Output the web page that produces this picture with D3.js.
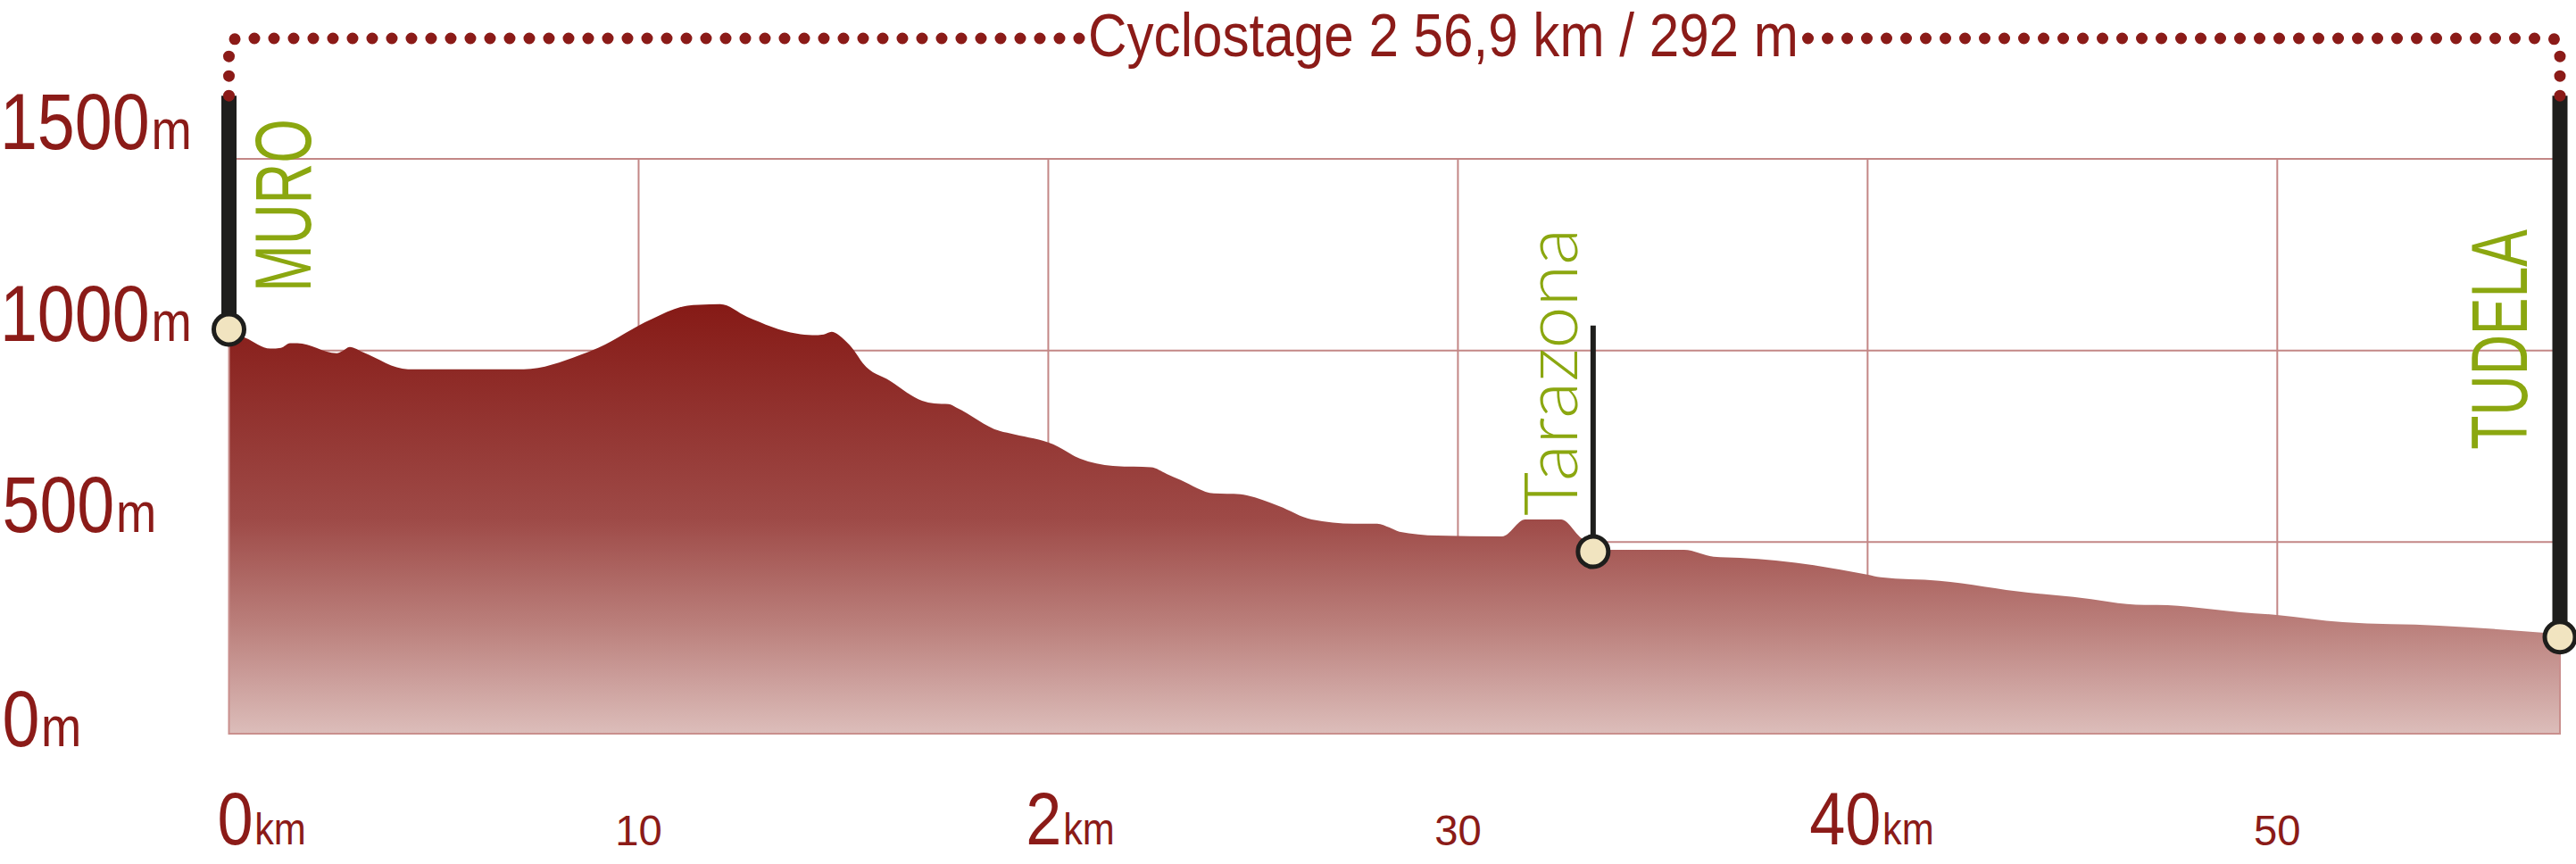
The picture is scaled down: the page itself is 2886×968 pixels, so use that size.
<!DOCTYPE html>
<html><head><meta charset="utf-8">
<script src="https://cdn.jsdelivr.net/npm/d3@7"></script>
<style>html,body{margin:0;padding:0;background:#fff;} svg{display:block;}</style>
</head><body>
<svg id="chart" width="2886" height="968"></svg>
<script>
// ---- data ----
const distanceKm = [0.0,0.40,1.01,1.27,1.49,1.67,2.63,2.76,2.95,3.28,4.37,4.93,6.83,7.20,8.57,9.01,10.32,11.19,11.47,11.99,12.65,13.86,14.24,14.52,14.71,15.04,15.26,15.47,16.13,16.92,17.22,17.57,17.76,18.81,19.18,20.12,20.77,21.58,22.51,22.89,23.23,24.04,24.69,24.85,25.63,26.43,27.46,28.03,28.33,28.57,29.49,31.08,31.64,32.52,33.02,33.32,33.63,35.52,36.24,36.89,37.76,39.99,40.32,41.75,43.93,45.02,46.77,47.07,49.10,49.99,51.60,53.95,56.9];
const elevationM = [1050,1033,1005,1007,1019,1019,993,998,1009,995,951,951,951,951,988,1007,1082,1117,1119,1121,1088,1044,1040,1042,1049,1026,1000,967,921,869,862,860,851,790,781,755,718,699,695,678,662,627,625,622,594,559,548,548,538,527,517,515,559,559,510,490,480,480,462,459,452,415,408,399,368,357,336,336,317,310,291,282,260];
const townNames = ["MURO", "Tarazona", "TUDELA"];
const townKm = [0, 33.3, 56.9];
const townElev = [1055, 475, 252];
const yTickValues = [0, 500, 1000, 1500];
const yTickLabels = ["0m", "500m", "1000m", "1500m"];
const xTickValues = [0, 10, 20, 30, 40, 50];
const xTickLabels = ["0km", "10", "2km", "30", "40km", "50"];
const titleText = "Cyclostage 2 56,9 km / 292 m";

// ---- styling ----
const RED = "#8b1b18", GREEN = "#8ba710", DARK = "#1e1e1c", GRID = "#c38786";
const FONT = "'Liberation Sans', Arial, sans-serif";
const LIGHT_FONT = "Lato, 'Open Sans', sans-serif";

// text fitting helpers (canvas ink metrics)
const ctx = document.createElement("canvas").getContext("2d");
function ink(text, size, family, weight) {
  ctx.font = `${weight} ${size}px ${family}`;
  const m = ctx.measureText(text);
  return { left: m.actualBoundingBoxLeft, width: m.actualBoundingBoxLeft + m.actualBoundingBoxRight, ascent: m.actualBoundingBoxAscent };
}
function fit(text, family, weight, capH, inkW) {
  const ratio = ink("H", 200, family, weight).ascent / 200;
  const size = capH / ratio;
  const m = ink(text, size, family, weight);
  return { size, sx: inkW / m.width, left: m.left };
}

const svg = d3.select("#chart");
const x = d3.scaleLinear().domain([0, 56.9]).range([256.5, 2868]);
const y = d3.scaleLinear().domain([0, 1500]).range([822, 178]);

// gradient
const defs = svg.append("defs");
const grad = defs.append("linearGradient").attr("id", "g").attr("gradientUnits", "userSpaceOnUse")
  .attr("x1", 0).attr("x2", 0).attr("y1", y(1120)).attr("y2", y(0));
[[0, "#861a16"], [0.5, "#9e4a47"], [0.75, "#bb807c"], [1, "#dcbdba"]].forEach(s =>
  grad.append("stop").attr("offset", s[0]).attr("stop-color", s[1]));

// grid
const gGrid = svg.append("g");
gGrid.selectAll("line.v").data(xTickValues.filter(d => d > 0)).join("line")
  .attr("x1", d => x(d)).attr("x2", d => x(d)).attr("y1", y(1500)).attr("y2", y(0))
  .attr("stroke", GRID).attr("stroke-width", 2);
gGrid.selectAll("line.h").data(yTickValues.filter(d => d > 0)).join("line")
  .attr("x1", x(0)).attr("x2", x(56.9)).attr("y1", d => y(d)).attr("y2", d => y(d))
  .attr("stroke", GRID).attr("stroke-width", 2);

// area
const pts = distanceKm.map((d, i) => [d, elevationM[i]]);
const area = d3.area().x(d => x(d[0])).y0(y(0)).y1(d => y(d[1])).curve(d3.curveMonotoneX);
svg.append("path").datum(pts).attr("d", area).attr("fill", "url(#g)");
svg.append("path")
  .attr("d", `M${x(0)},${y(elevationM[0])}V${y(0)}H${x(56.9)}V${y(elevationM[elevationM.length - 1])}`)
  .attr("fill", "none").attr("stroke", "#c98f8d").attr("stroke-width", 2);

// poles and markers
const poleTop = [1665, 1065, 1665];
const poleW = [17, 6, 17];
townNames.forEach((t, i) => {
  svg.append("line").attr("x1", x(townKm[i])).attr("x2", x(townKm[i]))
    .attr("y1", y(poleTop[i])).attr("y2", y(townElev[i]))
    .attr("stroke", DARK).attr("stroke-width", poleW[i]);
});
svg.selectAll("circle.town").data(townNames).join("circle")
  .attr("cx", (d, i) => x(townKm[i])).attr("cy", (d, i) => y(townElev[i])).attr("r", 17)
  .attr("fill", "#f1e4c0").attr("stroke", DARK).attr("stroke-width", 5);

// town labels (rotated)
const labelDx = [91, -18, -37], labelBottom = [322, 577, 503];
const labelCap = [61, 59, 61], labelLen = [186, 315, 246];
townNames.forEach((t, i) => {
  const light = t === "Tarazona";
  const fam = light ? LIGHT_FONT : FONT, w = light ? 300 : 400;
  const f = fit(t, fam, w, labelCap[i], labelLen[i]);
  svg.append("text")
    .attr("transform", `translate(${x(townKm[i]) + labelDx[i]},${labelBottom[i]}) rotate(-90) scale(${f.sx},1)`)
    .attr("x", f.left)
    .attr("font-family", fam).attr("font-weight", w)
    .attr("font-size", f.size).attr("fill", GREEN).text(t);
});

// y labels
const yf = fit("1500", FONT, 400, 61, 160);
const yl = svg.append("g");
yTickValues.forEach((v, i) => {
  const lab = yTickLabels[i];
  const num = lab.replace(/m$/, "");
  const by = v === 0 ? y(v) + 14 : y(v) - 11;
  const l = ink(num, yf.size, FONT, 400).left;
  const t = yl.append("text").attr("transform", `translate(5,${by}) scale(${yf.sx},1)`)
    .attr("x", l).attr("font-family", FONT).attr("fill", RED);
  t.append("tspan").attr("font-size", yf.size).text(num);
  t.append("tspan").attr("font-size", yf.size * 0.72).attr("dx", 2).text("m");
});

// x labels
const bigF = fit("40", FONT, 400, 58, 77);
const smallF = fit("10", FONT, 400, 33, 48);
const xNudge = [12, 0, 0, 0, 0, 0];
const xl = svg.append("g");
xTickValues.forEach((v, i) => {
  const lab = xTickLabels[i];
  if (/km$/.test(lab)) {
    const num = lab.replace(/km$/, "");
    const g = xl.append("g").attr("transform", `translate(${x(v) + 15 + xNudge[i]},946) scale(${bigF.sx},1)`);
    g.append("text").attr("text-anchor", "end").attr("font-family", FONT)
      .attr("font-size", bigF.size).attr("fill", RED).text(num);
    g.append("text").attr("text-anchor", "start").attr("x", 2).attr("font-family", FONT)
      .attr("font-size", bigF.size * 0.6).attr("fill", RED).text("km");
  } else {
    xl.append("text").attr("transform", `translate(${x(v)},947) scale(${smallF.sx},1)`)
      .attr("text-anchor", "middle").attr("font-family", FONT)
      .attr("font-size", smallF.size).attr("fill", RED).text(lab);
  }
});

// title and dotted frame
const tf = fit(titleText, FONT, 400, 47, 790);
const titleX = 1617, dotY = 43;
svg.append("text").attr("transform", `translate(${titleX},63) scale(${tf.sx},1)`)
  .attr("text-anchor", "middle").attr("font-family", FONT).attr("font-size", tf.size)
  .attr("fill", RED).text(titleText);
const tw = 790;
const xa = x(0), xb = x(56.9), poleY = y(1665);
const dotStyle = p => p.attr("fill", "none").attr("stroke", RED).attr("stroke-width", 13)
  .attr("stroke-linecap", "round").attr("stroke-dasharray", "0 22");
dotStyle(svg.append("path").attr("d",
  `M${xa},${poleY}V${dotY + 12}Q${xa},${dotY} ${xa + 12},${dotY}H${titleX - tw / 2 - 12}`));
dotStyle(svg.append("path").attr("d",
  `M${xb},${poleY}V${dotY + 12}Q${xb},${dotY} ${xb - 12},${dotY}H${titleX + tw / 2 + 12}`));
</script>
</body></html>
